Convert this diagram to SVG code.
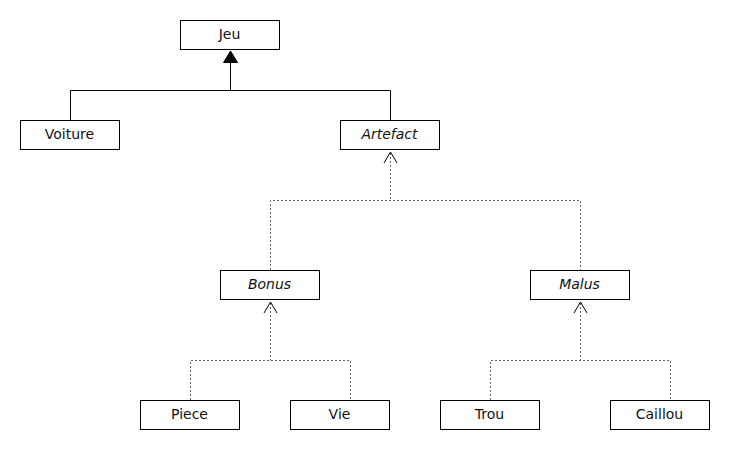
<svg xmlns="http://www.w3.org/2000/svg" width="730" height="450" viewBox="0 0 730 450">
<style>
.box{fill:#fff;stroke:#000;stroke-width:1}
.t{font-family:"DejaVu Sans",sans-serif;font-size:14px;fill:#111;text-anchor:middle}
.i{font-style:italic}
.solid{fill:none;stroke:#000;stroke-width:1}
.dash{fill:none;stroke:#666;stroke-width:1;stroke-dasharray:2,2}
.open{fill:none;stroke:#000;stroke-width:1}
</style>
<rect width="730" height="450" fill="#fff"/>
<g id="connectors">
<path class="solid" d="M70.5,120 V90.5 H390.5 V120 M230.5,90.5 V62"/>
<polygon points="230.5,51 223.5,62.5 237.5,62.5" fill="#000" stroke="#000"/>
<path class="dash" d="M390.5,153 V200.5 M270.5,270 V200.5 H580.5 V270"/>
<path class="open" d="M384,163 L390.5,152 L397,163"/>
<path class="dash" d="M270.5,303 V360.5 M190.5,400 V360.5 H350.5 V400"/>
<path class="open" d="M264,313 L270.5,302 L277,313"/>
<path class="dash" d="M580.5,303 V360.5 M490.5,400 V360.5 H670.5 V400"/>
<path class="open" d="M574,313 L580.5,302 L587,313"/>
</g>
<g id="Jeu"><rect class="box" x="180.5" y="20.5" width="99" height="29"/><text class="t" x="229.5" y="38.5">Jeu</text></g>
<g id="Voiture"><rect class="box" x="20.5" y="120.5" width="99" height="29"/><text class="t" x="69.5" y="138.5">Voiture</text></g>
<g id="Artefact"><rect class="box" x="340.5" y="120.5" width="99" height="29"/><text class="t i" x="389.5" y="138.5">Artefact</text></g>
<g id="Bonus"><rect class="box" x="220.5" y="270.5" width="99" height="29"/><text class="t i" x="269.5" y="288.5">Bonus</text></g>
<g id="Malus"><rect class="box" x="530.5" y="270.5" width="99" height="29"/><text class="t i" x="579.5" y="288.5">Malus</text></g>
<g id="Piece"><rect class="box" x="140.5" y="400.5" width="99" height="29"/><text class="t" x="189.5" y="418.5">Piece</text></g>
<g id="Vie"><rect class="box" x="290.5" y="400.5" width="99" height="29"/><text class="t" x="339.5" y="418.5">Vie</text></g>
<g id="Trou"><rect class="box" x="440.5" y="400.5" width="99" height="29"/><text class="t" x="489.5" y="418.5">Trou</text></g>
<g id="Caillou"><rect class="box" x="610.5" y="400.5" width="99" height="29"/><text class="t" x="659.5" y="418.5">Caillou</text></g>
</svg>
